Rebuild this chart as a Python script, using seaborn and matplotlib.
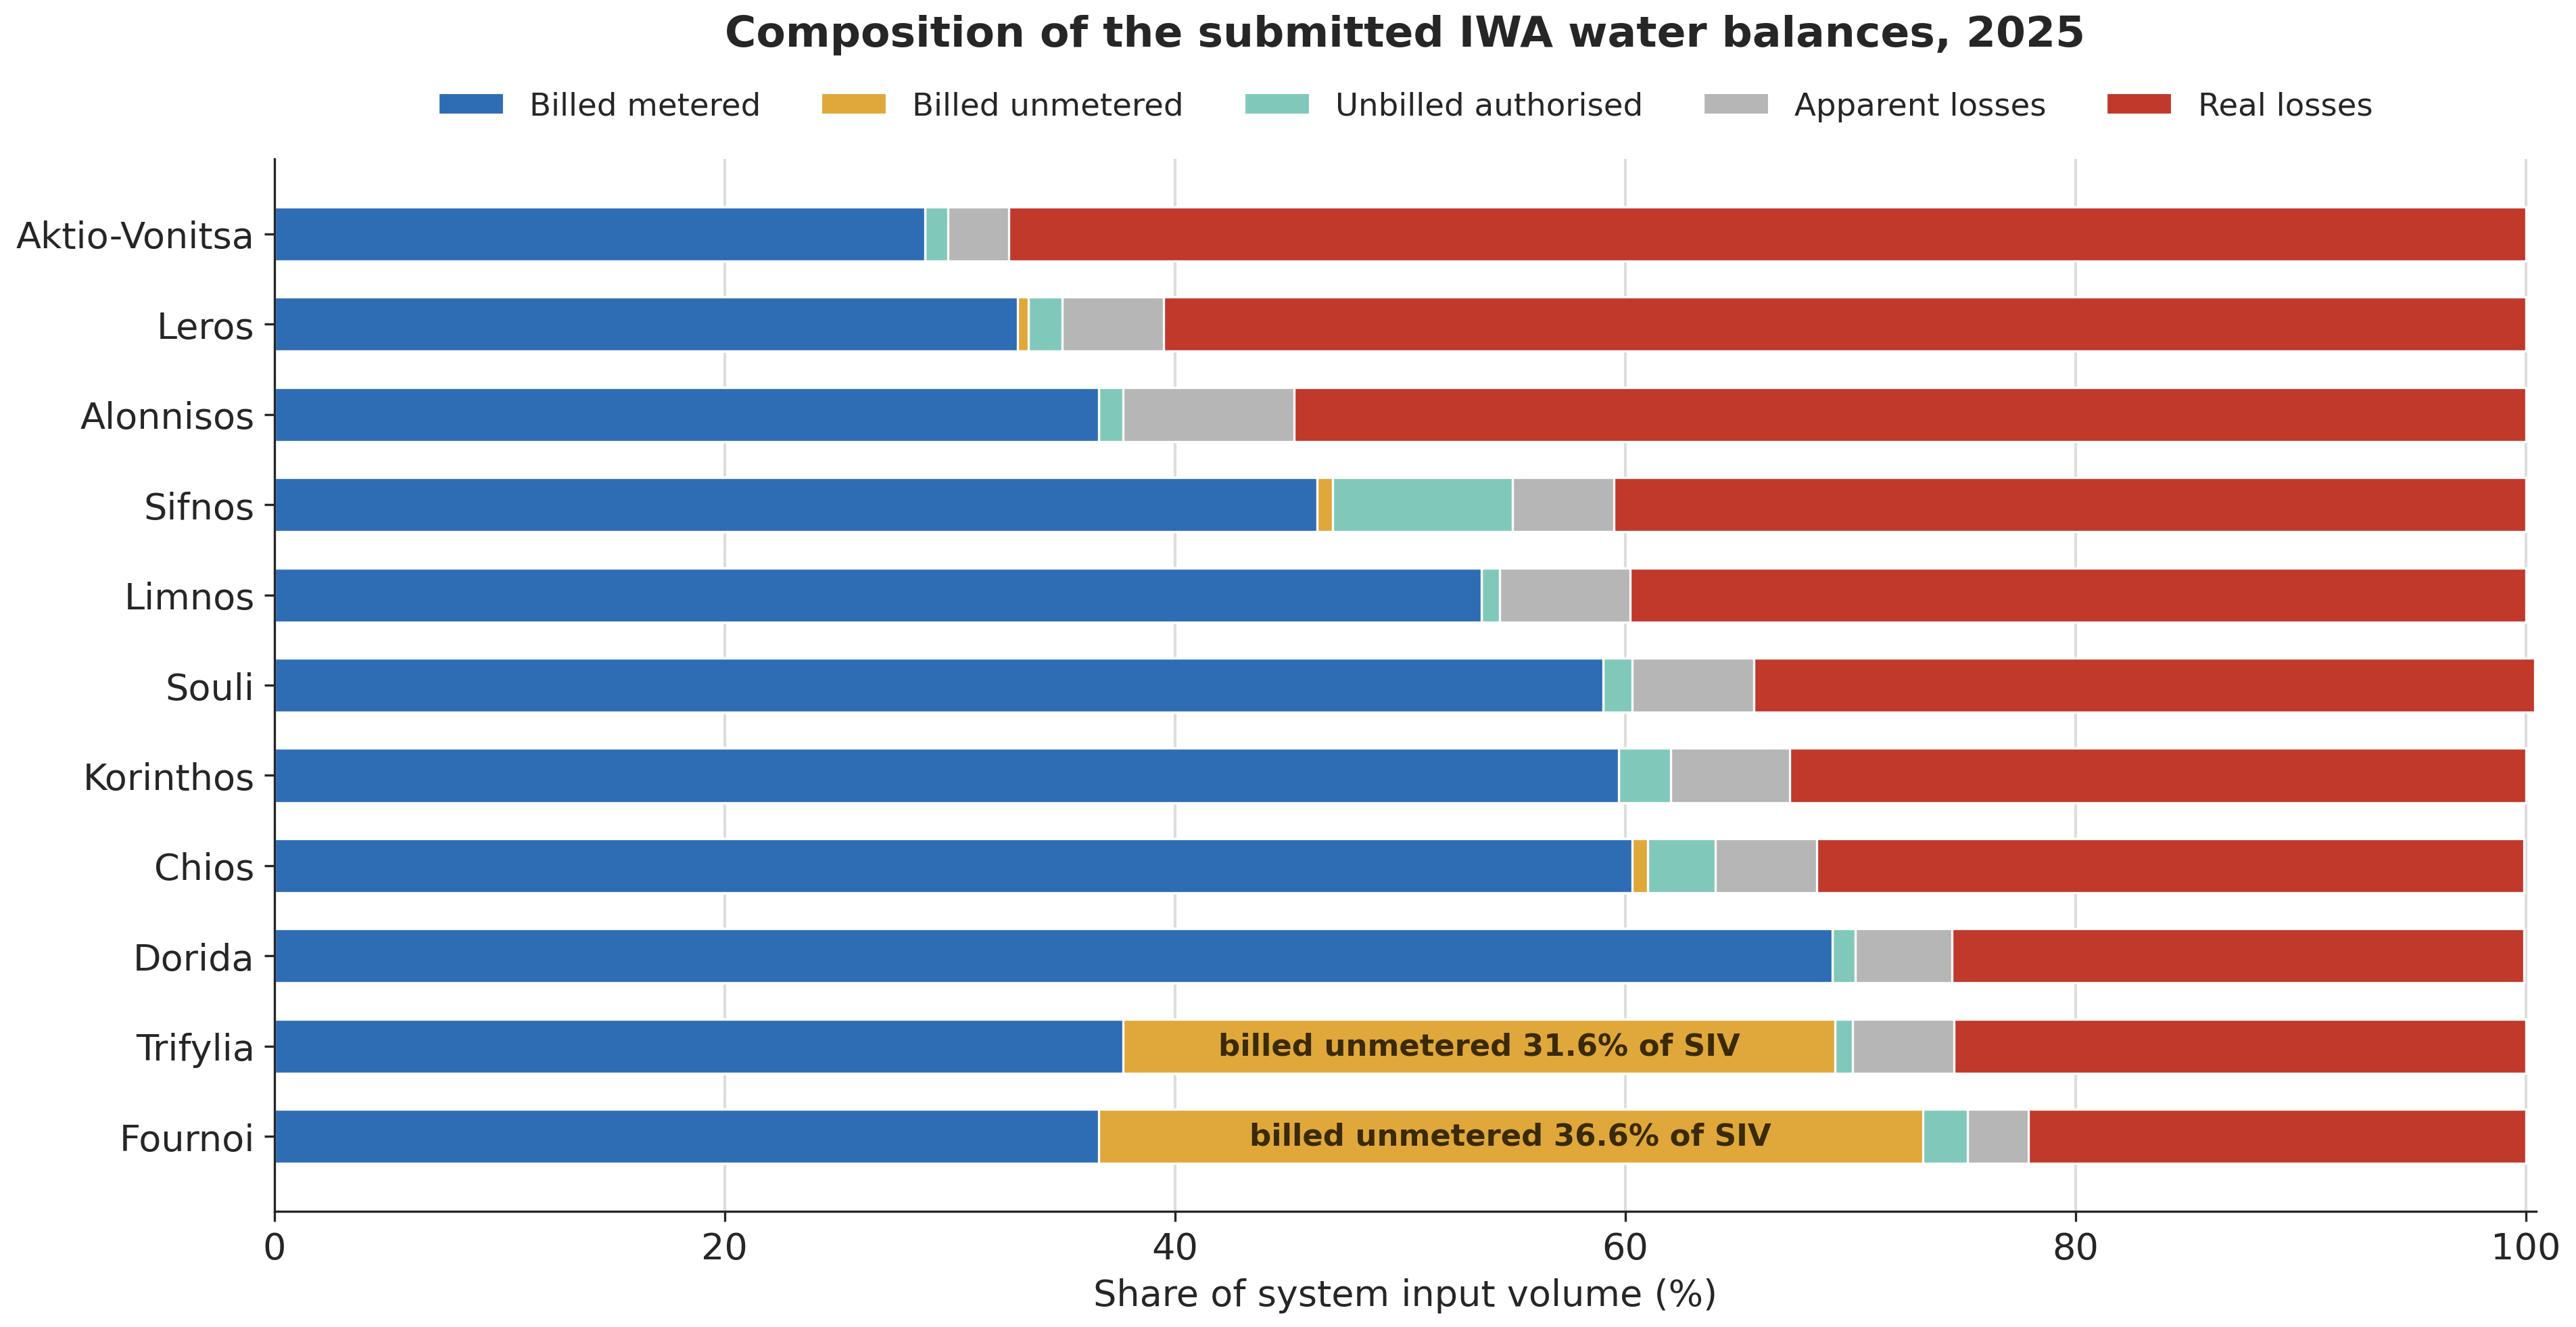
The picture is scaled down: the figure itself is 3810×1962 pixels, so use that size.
import numpy as np
import pandas as pd
import matplotlib
matplotlib.use("Agg")
import matplotlib.pyplot as plt
from matplotlib.patches import Patch
import seaborn as sns

# Данные (% от объёма на входе в систему)
municipalities = ["Aktio-Vonitsa", "Leros", "Alonnisos", "Sifnos", "Limnos", "Souli",
                  "Korinthos", "Chios", "Dorida", "Trifylia", "Fournoi"]
billed_metered = [28.9, 33.0, 36.6, 46.3, 53.6, 59.0, 59.7, 60.3, 69.2, 37.7, 36.6]
billed_unmetered = [0.0, 0.5, 0.0, 0.7, 0.0, 0.0, 0.0, 0.7, 0.0, 31.6, 36.6]
unbilled_authorised = [1.0, 1.5, 1.1, 8.0, 0.8, 1.3, 2.3, 3.0, 1.0, 0.8, 2.0]
apparent_losses = [2.7, 4.5, 7.6, 4.5, 5.8, 5.4, 5.3, 4.5, 4.3, 4.5, 2.7]
real_losses = [67.4, 60.5, 54.7, 40.5, 39.8, 34.7, 32.7, 31.4, 25.4, 25.4, 22.1]

components = ["Billed metered", "Billed unmetered", "Unbilled authorised",
              "Apparent losses", "Real losses"]
colors = ["#2e6db4", "#e0a83a", "#80c9ba", "#b6b6b6", "#c0392b"]

df = pd.DataFrame({
    "Billed metered": billed_metered,
    "Billed unmetered": billed_unmetered,
    "Unbilled authorised": unbilled_authorised,
    "Apparent losses": apparent_losses,
    "Real losses": real_losses,
}, index=municipalities)
cum = df.cumsum(axis=1)

sns.set_style("ticks")
plt.rcParams["font.family"] = ["DejaVu Sans"]

fig, ax = plt.subplots(figsize=(12.703, 6.543), dpi=300)
fig.subplots_adjust(left=0.1065, right=0.9843, top=0.8798, bottom=0.0871)

# накопленные суммы рисуем от последнего слоя к первому
for comp, col in reversed(list(zip(components, colors))):
    sns.barplot(x=cum[comp].values, y=municipalities, orient="h", color=col,
                saturation=1, width=0.6, errorbar=None, edgecolor="white",
                linewidth=0.8, ax=ax, zorder=2)

# подписи для больших долей billed unmetered
for i, name in enumerate(municipalities):
    v = df.loc[name, "Billed unmetered"]
    if v > 20:
        mid = df.loc[name, "Billed metered"] + v / 2
        ax.text(mid, i, f"billed unmetered {v:.1f}% of SIV", ha="center", va="center",
                fontsize=10.8, fontweight="bold", color="#3a2a05", zorder=3)

ax.set_xlim(0, 100.45)
ax.set_ylim(len(municipalities) - 1 + 0.83, -0.83)
ax.set_xticks([0, 20, 40, 60, 80, 100])
ax.grid(axis="x", color="#dddddd", linewidth=1.0)
ax.set_axisbelow(True)
ax.tick_params(axis="both", labelsize=13)
ax.set_xlabel("Share of system input volume (%)", fontsize=13)
ax.set_ylabel("")
sns.despine(ax=ax)

handles = [Patch(facecolor=c, label=l) for c, l in zip(colors, components)]
ax.legend(handles=handles, loc="center", bbox_to_anchor=(0.5, 1.05), ncol=5,
          frameon=False, fontsize=11.2, columnspacing=1.9, handlelength=2.1)
ax.set_title("Composition of the submitted IWA water balances, 2025",
             fontsize=15.2, fontweight="bold", pad=40)

plt.savefig("out.png", dpi=300)
